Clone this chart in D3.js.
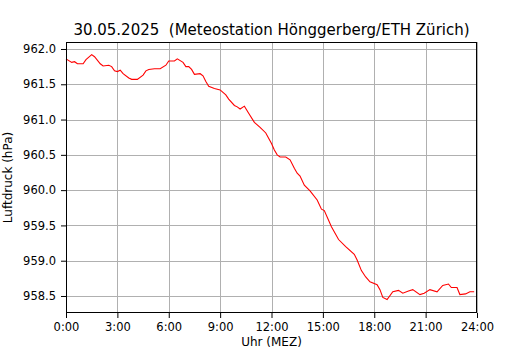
<!DOCTYPE html>
<html><head><meta charset="utf-8">
<script src="https://cdn.jsdelivr.net/npm/d3@7"></script>
<style>body{margin:0;background:#fff}svg{display:block;font-family:"DejaVu Sans",sans-serif}</style>
</head><body><svg id="c" width="530" height="350"></svg>
<script>
const title = "30.05.2025  (Meteostation Hönggerberg/ETH Zürich)";
const xLabel = "Uhr (MEZ)";
const yLabel = "Luftdruck (hPa)";
const xTickHours = [0,3,6,9,12,15,18,21,24];
const xTickLabels = ["0:00","3:00","6:00","9:00","12:00","15:00","18:00","21:00","24:00"];
const yTicks = [958.5,959.0,959.5,960.0,960.5,961.0,961.5,962.0];
const minutes = [0,20,30,40,60,70,90,100,120,130,150,160,170,180,190,200,220,230,250,270,280,290,310,330,350,360,380,390,410,420,430,440,450,470,480,490,500,520,540,560,570,590,600,610,625,640,660,680,700,720,730,740,750,770,785,800,810,820,835,855,880,895,905,930,955,980,1010,1020,1035,1050,1065,1090,1100,1110,1125,1145,1165,1180,1200,1215,1240,1255,1275,1300,1320,1340,1350,1370,1380,1400,1415,1430];
const pressure = [961.86,961.81,961.82,961.79,961.79,961.85,961.92,961.89,961.79,961.76,961.77,961.75,961.69,961.68,961.70,961.65,961.59,961.57,961.57,961.63,961.69,961.71,961.72,961.72,961.77,961.83,961.83,961.86,961.81,961.75,961.75,961.71,961.64,961.65,961.62,961.54,961.47,961.44,961.42,961.35,961.29,961.20,961.18,961.15,961.19,961.09,960.96,960.89,960.81,960.66,960.57,960.50,960.47,960.47,960.43,960.31,960.24,960.20,960.07,959.99,959.86,959.73,959.71,959.48,959.30,959.20,959.09,959.01,958.86,958.77,958.70,958.66,958.59,958.48,958.45,958.56,958.58,958.54,958.57,958.59,958.52,958.54,958.59,958.56,958.65,958.67,958.62,958.62,958.52,958.53,958.56,958.56];

const L=66,R=477,T=42,B=313;
const svg=d3.select("#c");
const x=d3.scaleLinear().domain([0,24]).range([L,R]);
const y=d3.scaleLinear().domain([958.259,962.099]).range([B,T]);

// grid
svg.append("g").selectAll("line").data(xTickHours).join("line")
  .attr("x1",d=>Math.round(x(d))+0.5).attr("x2",d=>Math.round(x(d))+0.5)
  .attr("y1",T).attr("y2",B).attr("stroke","#b0b0b0").attr("stroke-width",1);
svg.append("g").selectAll("line").data(yTicks).join("line")
  .attr("y1",d=>Math.round(y(d))+0.5).attr("y2",d=>Math.round(y(d))+0.5)
  .attr("x1",L).attr("x2",R).attr("stroke","#b0b0b0").attr("stroke-width",1);

// line
const line=d3.line().x((d,i)=>x(minutes[i]/60)).y(d=>y(d));
svg.append("path").datum(pressure).attr("d",line).attr("fill","none")
  .attr("stroke","#ff0000").attr("stroke-width",1.1);

// axes
const xAxis=d3.axisBottom(x).tickValues(xTickHours).tickFormat((d,i)=>xTickLabels[i]).tickSizeOuter(0).tickSize(5).tickPadding(5);
const gx=svg.append("g").attr("transform",`translate(0,${B})`).call(xAxis);
const yAxis=d3.axisLeft(y).tickValues(yTicks).tickFormat(d3.format(".1f")).tickSizeOuter(0).tickSize(5).tickPadding(5);
const gy=svg.append("g").attr("transform",`translate(${L},0)`).call(yAxis);
[gx,gy].forEach(g=>{g.select(".domain").remove();g.selectAll("text").attr("font-size",11.5).attr("font-family","DejaVu Sans").attr("fill","#000");g.selectAll("line").attr("stroke","#000");});

svg.append("rect").attr("x",L+0.5).attr("y",T+0.5).attr("width",R-L-1).attr("height",B-T-1)
  .attr("fill","none").attr("stroke","#000").attr("stroke-width",1);

svg.append("text").attr("x",(L+R)/2).attr("y",35).attr("text-anchor","middle").attr("font-size",15)
  .style("white-space","pre").attr("xml:space","preserve").text(title);
svg.append("text").attr("x",(L+R)/2).attr("y",346).attr("text-anchor","middle").attr("font-size",12).text(xLabel);
svg.append("text").attr("transform",`translate(12,${(T+B)/2}) rotate(-90)`).attr("text-anchor","middle").attr("font-size",12).text(yLabel);
</script></body></html>
